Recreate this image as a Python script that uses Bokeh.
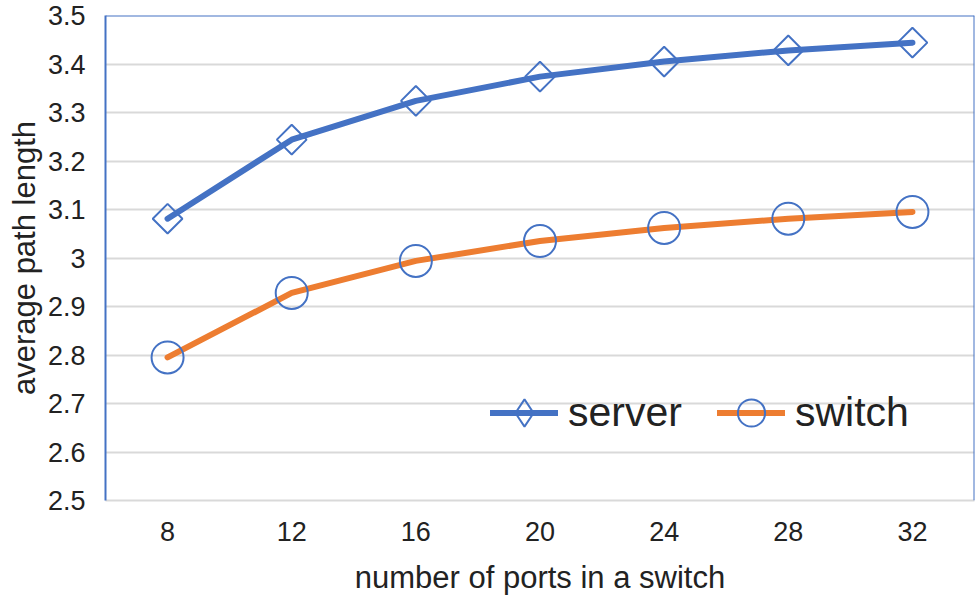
import math
from bokeh.plotting import figure
from bokeh.models import FixedTicker, CustomJSTickFormatter, Legend, LegendItem, FactorRange, Range1d, Span
from bokeh.embed import file_html
from bokeh.resources import INLINE

ports = ["8", "12", "16", "20", "24", "28", "32"]
server = [3.081, 3.244, 3.324, 3.374, 3.405, 3.428, 3.444]
switch = [2.795, 2.928, 2.994, 3.035, 3.062, 3.081, 3.095]
y_ticks = [2.5, 2.6, 2.7, 2.8, 2.9, 3.0, 3.1, 3.2, 3.3, 3.4, 3.5]
y_min, y_max = 2.5, 3.5

BLUE = "#4472c4"
ORANGE = "#ed7d31"
GRID = "#d9d9d9"
FONT = "Liberation Sans"
TXT = "#222222"

x_range = FactorRange(factors=ports, range_padding=0)
p = figure(width=976, height=598, x_range=x_range,
           y_range=Range1d(y_min, y_max), output_backend="svg", toolbar_location=None,
           min_border_left=105, min_border_right=2, min_border_top=15, min_border_bottom=98)
p.background_fill_color = "white"
p.border_fill_color = "white"
p.outline_line_color = None

p.xgrid.visible = False
p.ygrid.grid_line_color = GRID
p.ygrid.grid_line_width = 2

p.yaxis.ticker = FixedTicker(ticks=y_ticks)
p.yaxis.formatter = CustomJSTickFormatter(code="return String(parseFloat(tick.toFixed(1)));")
p.yaxis.major_tick_line_color = None
p.yaxis.minor_tick_line_color = None
p.yaxis.axis_line_color = BLUE
p.yaxis.axis_line_width = 2
p.yaxis.major_label_text_font = FONT
p.yaxis.major_label_text_font_size = "27px"
p.yaxis.major_label_text_color = TXT
p.yaxis.major_label_standoff = 14
p.yaxis.axis_label = "average path length"
p.yaxis.axis_label_text_font = FONT
p.yaxis.axis_label_text_font_size = "31px"
p.yaxis.axis_label_text_font_style = "normal"
p.yaxis.axis_label_text_color = TXT
p.yaxis.axis_label_standoff = 3

p.xaxis.major_tick_line_color = None
p.xaxis.minor_tick_line_color = None
p.xaxis.axis_line_color = GRID
p.xaxis.axis_line_width = 2
p.xaxis.major_label_text_font = FONT
p.xaxis.major_label_text_font_size = "27px"
p.xaxis.major_label_text_color = TXT
p.xaxis.major_label_standoff = 15
p.xaxis.axis_label = "number of ports in a switch"
p.xaxis.axis_label_text_font = FONT
p.xaxis.axis_label_text_font_size = "31px"
p.xaxis.axis_label_text_font_style = "normal"
p.xaxis.axis_label_text_color = TXT
p.xaxis.axis_label_standoff = 16

# blue frame edges (top and right); bottom stays grey like the grid
p.add_layout(Span(location=y_max, dimension="width", line_color=BLUE, line_width=2))
p.add_layout(Span(location=len(ports), dimension="height", line_color=BLUE, line_width=2))

s_mark = p.scatter(ports, server, marker="square", angle=math.pi / 4, size=21,
                   fill_color=None, line_color=BLUE, line_width=2)
s_line = p.line(ports, server, line_color=BLUE, line_width=6, line_cap="round")
w_line = p.line(ports, switch, line_color=ORANGE, line_width=6, line_cap="round")
w_mark = p.scatter(ports, switch, marker="circle", size=32,
                   fill_color=None, line_color=BLUE, line_width=2)
# legend-only diamond (legend swatches ignore marker rotation)
s_leg = p.scatter(ports, server, marker="diamond", size=21,
                  fill_color=None, line_color=BLUE, line_width=2, visible=False)

legend = Legend(items=[LegendItem(label="server", renderers=[s_line, s_leg]),
                       LegendItem(label="switch", renderers=[w_line, w_mark])],
                orientation="horizontal", location=(385, 50),
                label_text_font=FONT, label_text_font_size="41px", label_text_color=TXT,
                glyph_width=68, glyph_height=75, spacing=35, label_standoff=10,
                padding=0, margin=0, border_line_color=None, background_fill_alpha=0)
p.add_layout(legend, "center")

open("out.html", "w").write(file_html(p, INLINE))
